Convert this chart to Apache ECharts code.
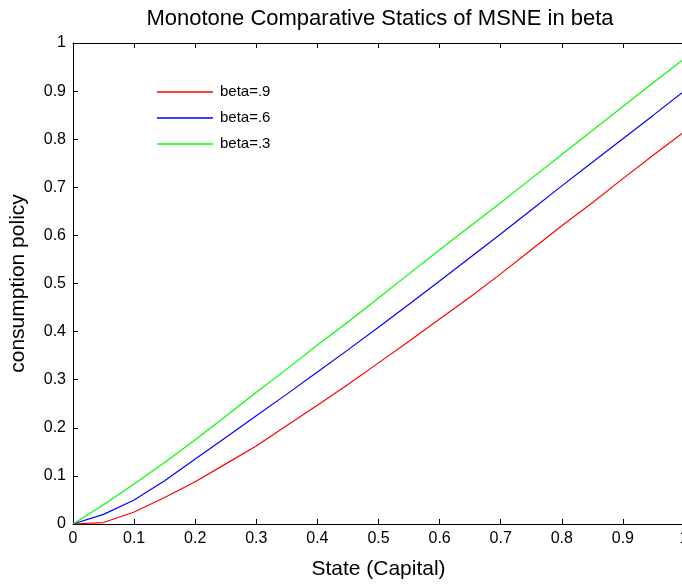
<!DOCTYPE html>
<html>
<head>
<meta charset="utf-8">
<script src="https://cdn.jsdelivr.net/npm/echarts@6/dist/echarts.min.js"></script>
<style>
  html, body { margin: 0; padding: 0; background: #fff; }
  #chart { width: 682px; height: 584px; }
</style>
</head>
<body>
<div id="chart"></div>
<script>
// state grid (capital)
const states = [0, 0.05, 0.1, 0.15, 0.2, 0.25, 0.3, 0.35, 0.4, 0.45, 0.5,
  0.55, 0.6, 0.65, 0.7, 0.75, 0.8, 0.85, 0.9, 0.95, 1];

// consumption policy
const beta9 = [0, 0.003, 0.025, 0.055, 0.088, 0.125, 0.162, 0.205, 0.247, 0.29, 0.335,
  0.38, 0.426, 0.472, 0.52, 0.57, 0.62, 0.668, 0.718, 0.767, 0.815];
const beta6 = [0, 0.02, 0.05, 0.09, 0.135, 0.18, 0.225, 0.27, 0.316, 0.362, 0.409,
  0.457, 0.505, 0.554, 0.603, 0.653, 0.703, 0.752, 0.801, 0.85, 0.9];
const beta3 = [0, 0.04, 0.083, 0.128, 0.175, 0.224, 0.274, 0.322, 0.372, 0.42, 0.47,
  0.52, 0.57, 0.619, 0.668, 0.718, 0.768, 0.818, 0.868, 0.918, 0.967];

const seriesNames = ['beta=.9', 'beta=.6', 'beta=.3'];
const seriesColors = ['#ff0000', '#0000ff', '#00ff00'];

const font = 'Liberation Sans, Arial, sans-serif';

function pairs(vals) {
  return states.map((x, i) => [x, vals[i]]);
}

const chart = echarts.init(document.getElementById('chart'));

const axisLine = { show: true, lineStyle: { color: '#000', width: 1 } };
const tick = { show: true, inside: true, length: 5, lineStyle: { color: '#000' } };

const option = {
  backgroundColor: '#fff',
  animation: false,
  title: {
    text: 'Monotone Comparative Statics of MSNE in beta',
    left: 375,
    top: 3,
    textAlign: 'center',
    textStyle: { fontFamily: font, fontSize: 22, fontWeight: 'normal', color: '#000' }
  },
  legend: {
    orient: 'vertical',
    left: 157,
    top: 84,
    padding: 0,
    icon: 'rect',
    itemWidth: 56,
    itemHeight: 1.5,
    itemGap: 10,
    data: seriesNames,
    textStyle: { fontFamily: font, fontSize: 15, color: '#000', lineHeight: 16, padding: [0, 0, 0, 2] }
  },
  grid: { left: 73, right: -2, top: 43, bottom: 60, outerBoundsMode: 'none' },
  xAxis: [{
    type: 'value',
    min: 0, max: 1, interval: 0.1,
    name: 'State (Capital)',
    nameLocation: 'middle',
    nameGap: 35,
    nameTextStyle: { fontFamily: font, fontSize: 21, color: '#000' },
    axisLine: axisLine,
    axisTick: tick,
    axisLabel: { fontFamily: font, fontSize: 16, color: '#000', margin: 7 },
    splitLine: { show: false }
  }, {
    type: 'value',
    position: 'top',
    min: 0, max: 1, interval: 0.1,
    axisLine: axisLine,
    axisTick: tick,
    axisLabel: { show: false },
    splitLine: { show: false }
  }],
  yAxis: [{
    type: 'value',
    min: 0, max: 1, interval: 0.1,
    name: 'consumption policy',
    nameLocation: 'middle',
    nameGap: 44,
    nameTextStyle: { fontFamily: font, fontSize: 21, color: '#000' },
    axisLine: axisLine,
    axisTick: tick,
    axisLabel: { fontFamily: font, fontSize: 16, color: '#000', margin: 7 },
    splitLine: { show: false }
  }],
  series: seriesNames.map((name, i) => ({
    name: name,
    type: 'line',
    data: pairs([beta9, beta6, beta3][i]),
    symbol: 'none',
    smooth: false,
    lineStyle: { color: seriesColors[i], width: 1.2 },
    itemStyle: { color: seriesColors[i] }
  }))
};

chart.setOption(option);
</script>
</body>
</html>
